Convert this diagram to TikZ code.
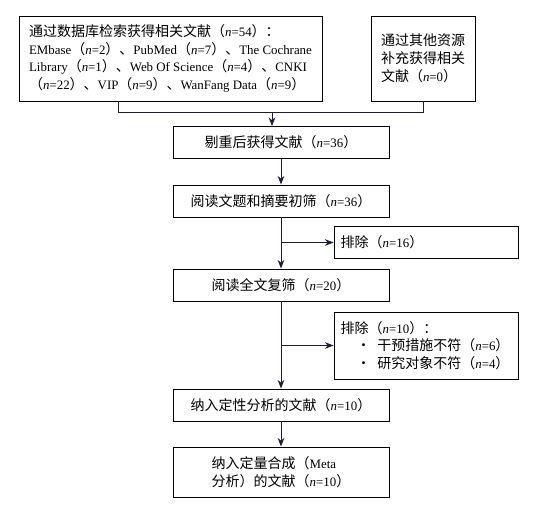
\documentclass[tikz,border=0pt]{standalone}
\usepackage{fontspec}
\setmainfont{Liberation Serif}[Scale=0.92]
\newfontfamily\cjk{Noto Sans CJK SC}
\newcommand{\zh}[1]{{\cjk #1}}
\newcommand{\nn}{\textit{n}}
\usetikzlibrary{arrows.meta}
\definecolor{linec}{RGB}{30,30,50}

\begin{document}
\begin{tikzpicture}[x=0.75pt,y=-0.75pt]
	\tikzset{
		box/.style={draw, line width=0.7pt, inner sep=0pt, inner xsep=5pt, minimum height=24pt, font=\fontsize{10.5pt}{13.3pt}\selectfont},
		mainbox/.style={box, minimum width=162pt, align=center},
		sidebox/.style={box, minimum width=138pt, text width=128pt, align=left},
		arr/.style={draw=linec, line width=0.7pt, -{Stealth[length=6.5pt,width=5pt]}},
		link/.style={draw=linec, line width=0.7pt}
	}
	\fill[white] (0,0) rectangle (543,504);
	\useasboundingbox (0,0) rectangle (543,504);
	
	% sources
	\node [box, minimum width=227.25pt, minimum height=63.75pt, align=left] (db) at (170.5,58.5)
		{\zh{通过数据库检索获得相关文献（}\nn=54\zh{）：}\\
		EMbase\zh{（}\nn=2\zh{）、}PubMed\zh{（}\nn=7\zh{）、}The Cochrane\\
		Library\zh{（}\nn=1\zh{）、}Web Of Science\zh{（}\nn=4\zh{）、}CNKI\\
		\zh{（}\nn=22\zh{）、}VIP\zh{（}\nn=9\zh{）、}WanFang Data\zh{（}\nn=9\zh{）}};
	\node [box, minimum width=78pt, minimum height=63.75pt, align=left] (other) at (423,58.5)
		{\zh{通过其他资源}\\\zh{补充获得相关}\\\zh{文献（}\nn=0\zh{）}};
	
	% screening
	\node [mainbox] (dedup) at (281,142.5) {\zh{剔重后获得文献（}\nn=36\zh{）}};
	\node [mainbox] (title) at (281,201) {\zh{阅读文题和摘要初筛（}\nn=36\zh{）}};
	\node [sidebox] (ex1) at (426,242.5) {\zh{排除（}\nn=16\zh{）}};
	\node [mainbox] (full) at (281,285) {\zh{阅读全文复筛（}\nn=20\zh{）}};
	\node [sidebox, minimum height=50.25pt] (ex2) at (426,345.5)
		{\zh{排除（}\nn=10\zh{）：}\\
		\hspace*{12pt}\zh{·}\kern5pt\zh{干预措施不符（}\nn=6\zh{）}\\
		\hspace*{12pt}\zh{·}\kern5pt\zh{研究对象不符（}\nn=4\zh{）}};
	\node [mainbox] (qual) at (281,405) {\zh{纳入定性分析的文献（}\nn=10\zh{）}};
	\node [mainbox, minimum height=37.5pt, align=left] (meta) at (281,472)
		{\zh{纳入定量合成（}Meta\\\zh{分析）的文献（}\nn=10\zh{）}};
	
	\coordinate (jl) at (118,112);
	\coordinate (jr) at (423,112);
	\coordinate (jc) at (272,112);
	
	\draw [link] (db.south -| jl) -- (jl) -- (jr) -- (other.south);
	\draw [arr] (jc) -- (jc |- dedup.north);
	\draw [arr] (dedup) -- (title);
	\draw [arr] (title) -- (full);
	\draw [arr] (title.south |- ex1.west) -- (ex1.west);
	\draw [arr] (full) -- (qual);
	\draw [arr] (full.south |- ex2.west) -- (ex2.west);
	\draw [arr] (qual) -- (meta);
	
\end{tikzpicture}
\end{document}
